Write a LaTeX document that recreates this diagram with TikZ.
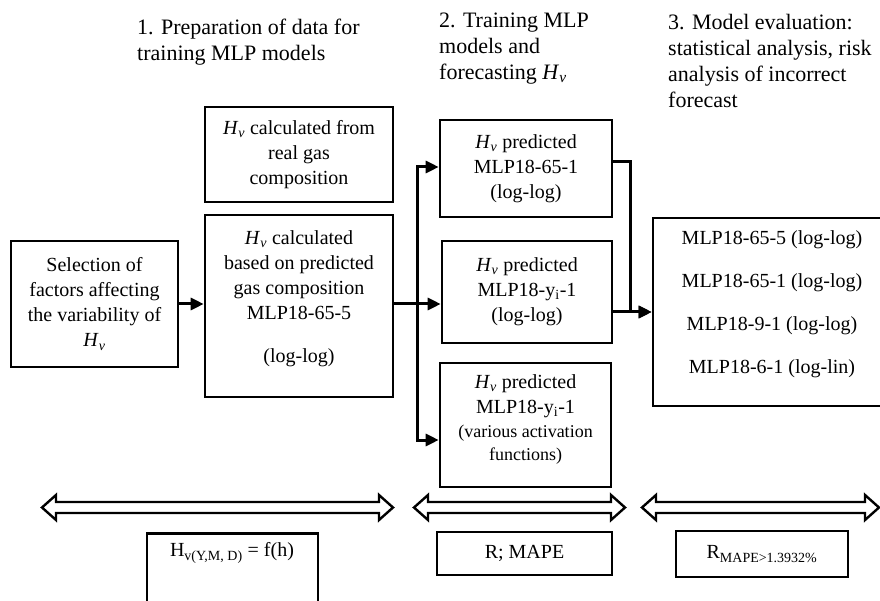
\documentclass[tikz,border=0pt]{standalone}
\usepackage{fontspec}
\setmainfont{Liberation Serif}
\usetikzlibrary{arrows.meta,calc}
\newcommand\Hv{\textit{H}\textsubscript{\textit{v}}}
\newcommand\smallfnt{\fontsize{18}{23}\selectfont}
\newcommand\dblarrow[3]{%
  \draw[dbl] (#1,#3) -- ++(14,-12.5) -- ++(0,7) -- ({#2-14},{#3-5.5}) -- ++(0,-7) -- (#2,#3)
    -- ({#2-14},{#3+12.5}) -- ++(0,-7) -- ({#1+14},{#3+5.5}) -- ++(0,7) -- cycle;}
\begin{document}
\begin{tikzpicture}[x=1pt,y=-1pt,
  box/.style={draw, line width=2.6pt, inner sep=0pt, align=center, font=\fontsize{20}{25}\selectfont},
  txt/.style={inner sep=0pt, align=center, font=\fontsize{20}{25}\selectfont},
  title/.style={inner sep=0pt, align=left, anchor=west, font=\fontsize{22}{26}\selectfont},
  conn/.style={line width=3pt, -{Triangle[length=13pt,width=12pt]}},
  dbl/.style={line width=2.4pt, line join=miter}]
\useasboundingbox (0,0) rectangle (880,601);
\clip (0,0) rectangle (880,601);

% titles
\node[title] (t1) at (137,42) {1. Preparation of data for\\training MLP models};
\node[title] (t2) at (439,48.5) {2. Training MLP\\models and\\forecasting \Hv};
\node[title] (t3) at (668,61) {3. Model evaluation:\\statistical analysis, risk\\analysis of incorrect\\forecast};

% column 1
\node[box, minimum width=188pt, minimum height=95pt] (real) at (299,154.5) {\Hv{} calculated from\\real gas\\composition};
\node[box, minimum width=188pt, minimum height=182pt] (pred) at (299,306) {};
\node[txt] (predtxt) at (299,298.5) {\Hv{} calculated\\based on predicted\\gas composition\\MLP18-65-5\\[18pt](log-log)};
\node[box, minimum width=167pt, minimum height=126pt] (sel) at (94.5,304) {Selection of\\factors affecting\\the variability of\\\Hv};

% column 2
\node[box, minimum width=172pt, minimum height=97pt] (m1) at (526,168.5) {\Hv{} predicted\\MLP18-65-1\\(log-log)};
\node[box, minimum width=170pt, minimum height=102pt] (m2) at (527,292) {\Hv{} predicted\\MLP18-y\textsubscript{i}-1\\(log-log)};
\node[box, minimum width=171pt, minimum height=124pt] (m3) at (525.5,425) {};
\node[txt] (m3txt) at (525.5,419) {\Hv{} predicted\\MLP18-y\textsubscript{i}-1\\[-1pt]{\smallfnt (various activation}\\[-2pt]{\smallfnt functions)}};

% column 3
\node[box, minimum width=238pt, minimum height=188pt] (r) at (772,312) {};
\node[txt] (rtxt) at (772,304) {MLP18-65-5 (log-log)\\[18pt]MLP18-65-1 (log-log)\\[18pt]MLP18-9-1 (log-log)\\[18pt]MLP18-6-1 (log-lin)};

% connectors
\draw[conn] (sel.east) -- (sel.east -| pred.west);
\coordinate (busmid) at (417,304);
\coordinate (btop) at (417,167);
\coordinate (bbot) at (417,440);
\draw[conn] (pred.east |- busmid) -- (m2.west |- busmid);
\draw[conn] (busmid) -- (btop) -- (btop -| m1.west);
\draw[conn] (busmid) -- (bbot) -- (bbot -| m3.west);
\coordinate (m1o) at ($(m1.east)+(0,-6.5)$);
\coordinate (rj) at (630,312);
\draw[conn] (m1o) -| (rj) -- (r.west);
\draw[conn] (m2.east |- r.west) -- (r.west);

% double arrows
\dblarrow{42}{393}{507.5}
\dblarrow{414}{625}{507.5}
\dblarrow{642}{879}{507.5}

% bottom boxes
\node[box, minimum width=171pt, minimum height=90pt, anchor=north] (f) at (232.5,532) {};
\node[txt] (ftxt) at (232,553) {H\textsubscript{v(Y,M, D)} = f(h)};
\node[box, minimum width=175pt, minimum height=43pt] (rm) at (524.5,553.5) {R; MAPE};
\node[box, minimum width=172pt, minimum height=46pt] (rr) at (762,554) {R\textsubscript{MAPE>1.3932\%}};
\end{tikzpicture}
\end{document}
